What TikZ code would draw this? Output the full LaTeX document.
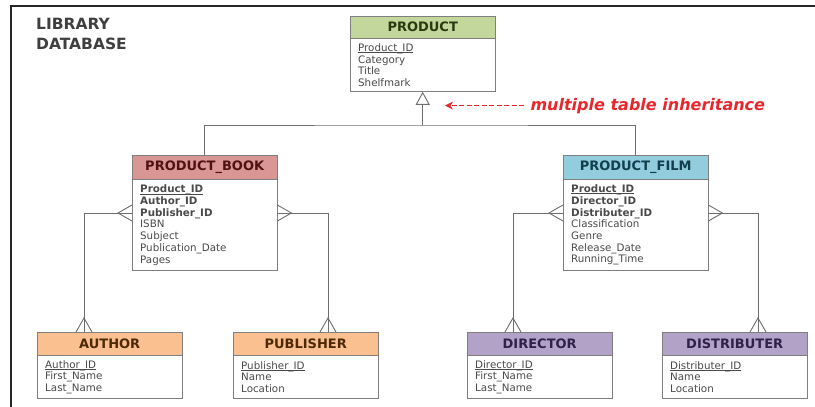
\documentclass[tikz,border=0pt]{standalone}
\usepackage{fontspec}
\setmainfont{DejaVu Sans}
\usepackage{tikz}
\usetikzlibrary{arrows.meta}
\definecolor{boxgray}{HTML}{7F7F7F}
\definecolor{linegray}{HTML}{6E6E6E}
\definecolor{bodytext}{HTML}{4A4A4A}
\definecolor{titlegray}{HTML}{3F3F3F}
\definecolor{prodfill}{HTML}{C3D69B}
\definecolor{prodtext}{HTML}{2A3A10}
\definecolor{bookfill}{HTML}{D99694}
\definecolor{booktext}{HTML}{4F1210}
\definecolor{filmfill}{HTML}{93CDDD}
\definecolor{filmtext}{HTML}{123F4D}
\definecolor{pubfill}{HTML}{FAC090}
\definecolor{pubtext}{HTML}{4D2A06}
\definecolor{dirfill}{HTML}{B3A2C7}
\definecolor{dirtext}{HTML}{30214A}
\definecolor{notered}{HTML}{E8262B}
\newsavebox{\pkeybox}
\newcommand{\pkey}[1]{\sbox{\pkeybox}{#1}\rlap{\rule[-1.3pt]{\wd\pkeybox}{0.6pt}}\usebox{\pkeybox}}
\newcommand{\fkey}[1]{\textbf{#1}}

\begin{document}
\begin{tikzpicture}[x=1pt,y=-1pt,
  thead/.style 2 args={draw=boxgray,fill=#1,text=#2,anchor=north west,minimum width=145pt,minimum height=23pt,inner sep=0pt,font=\fontsize{13}{14}\selectfont\bfseries},
  tbody/.style={draw=boxgray,fill=white,text=bodytext,anchor=north west,text width=129pt,inner xsep=8pt,inner ysep=2pt,align=left,font=\fontsize{10.3}{11.7}\selectfont},
  link/.style={draw=linegray,line width=0.9pt},
  many/.pic={\draw[link] (0,-8) -- (-14,0) -- (0,8);}
]
  \useasboundingbox (0,0) rectangle (815,407);
  \draw[line width=1.4pt,black!85] (11,407) -- (11,6) -- (815,6);
  \node[anchor=north west,inner sep=0pt,align=left,text=titlegray,font=\fontsize{15.5}{20}\selectfont\bfseries] (libtitle) at (36,18) {LIBRARY\\DATABASE};

  \node[thead={prodfill}{prodtext},minimum height=22pt] (prodhead) at (350,16) {PRODUCT};
  \node[tbody,minimum height=53pt] (prodbody) at (prodhead.south west) {\pkey{Product\_ID}\\Category\\Title\\Shelfmark};

  \node[thead={bookfill}{booktext},minimum height=24pt] (bookhead) at (132,155) {PRODUCT\_BOOK};
  \node[tbody,minimum height=91pt] (bookbody) at (bookhead.south west) {\pkey{\fkey{Product\_ID}}\\\fkey{Author\_ID}\\\fkey{Publisher\_ID}\\ISBN\\Subject\\Publication\_Date\\Pages};

  \node[thead={filmfill}{filmtext},minimum height=24pt] (filmhead) at (563,155) {PRODUCT\_FILM};
  \node[tbody,minimum height=91pt] (filmbody) at (filmhead.south west) {\pkey{\fkey{Product\_ID}}\\\fkey{Director\_ID}\\\fkey{Distributer\_ID}\\Classification\\Genre\\Release\_Date\\Running\_Time};

  \node[thead={pubfill}{pubtext}] (authhead) at (37,332) {AUTHOR};
  \node[tbody,minimum height=43pt] (authbody) at (authhead.south west) {\pkey{Author\_ID}\\First\_Name\\Last\_Name};
  \node[thead={pubfill}{pubtext}] (pubhead) at (233,332) {PUBLISHER};
  \node[tbody,minimum height=43pt] (pubbody) at (pubhead.south west) {\pkey{Publisher\_ID}\\Name\\Location};
  \node[thead={dirfill}{dirtext}] (dirhead) at (467,332) {DIRECTOR};
  \node[tbody,minimum height=43pt] (dirbody) at (dirhead.south west) {\pkey{Director\_ID}\\First\_Name\\Last\_Name};
  \node[thead={dirfill}{dirtext}] (disthead) at (662,332) {DISTRIBUTER};
  \node[tbody,minimum height=43pt] (distbody) at (disthead.south west) {\pkey{Distributer\_ID}\\Name\\Location};

  \coordinate (split) at (prodbody.south |- 0,125);
  \draw[link] (bookhead.north) |- (split) -| (filmhead.north);
  \draw[link,-{Triangle[open,length=13pt,width=14pt]}] (split) -- (prodbody.south);

  \node[anchor=base west,text=notered,font=\fontsize{16}{18}\selectfont\bfseries\itshape] (note) at (527,110) {multiple table inheritance};
  \coordinate (notetip) at (445,0);
  \draw[notered,line width=1.3pt,dash pattern=on 5pt off 2.5pt,shorten <=3pt,-{Stealth[length=8pt,width=8pt]}] (note.west) -- (note.west -| notetip);

  \coordinate (fkrow) at (0,213);
  \coordinate (authx) at (84,0);
  \coordinate (pubx) at (328,0);
  \coordinate (dirx) at (513,0);
  \coordinate (distx) at (758,0);
  \draw[link] (bookbody.west |- fkrow) -| (authhead.north -| authx);
  \draw[link] (bookbody.east |- fkrow) -| (pubhead.north -| pubx);
  \draw[link] (filmbody.west |- fkrow) -| (dirhead.north -| dirx);
  \draw[link] (filmbody.east |- fkrow) -| (disthead.north -| distx);
  \pic at (bookbody.west |- fkrow) {many};
  \pic[rotate=180] at (bookbody.east |- fkrow) {many};
  \pic at (filmbody.west |- fkrow) {many};
  \pic[rotate=180] at (filmbody.east |- fkrow) {many};
  \pic[rotate=-90] at (authhead.north -| authx) {many};
  \pic[rotate=-90] at (pubhead.north -| pubx) {many};
  \pic[rotate=-90] at (dirhead.north -| dirx) {many};
  \pic[rotate=-90] at (disthead.north -| distx) {many};
\end{tikzpicture}
\end{document}
